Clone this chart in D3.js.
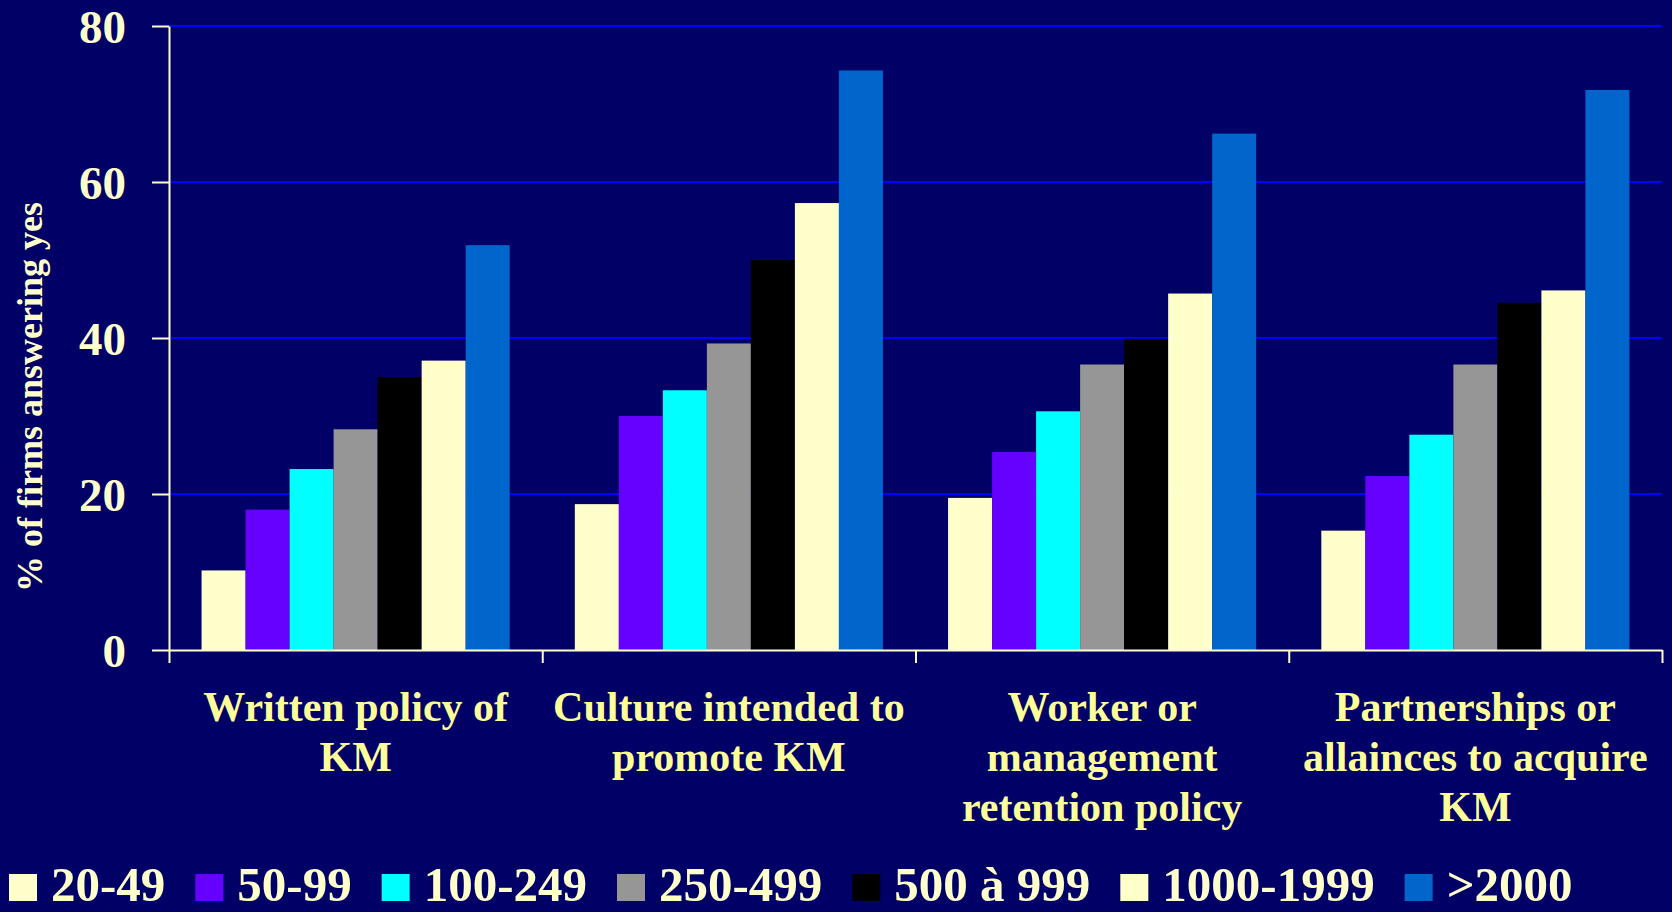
<!DOCTYPE html>
<html>
<head>
<meta charset="utf-8">
<script src="https://cdnjs.cloudflare.com/ajax/libs/d3/7.8.5/d3.min.js"></script>
<style>
  body { margin: 0; background: #000066; }
  svg { display: block; }
  text { font-family: "Liberation Serif", "Times New Roman", serif; font-weight: bold; }
</style>
</head>
<body>
<div id="chart"></div>
<script>
var categories = ["Written policy of KM", "Culture intended to promote KM",
                  "Worker or management retention policy", "Partnerships or allainces to acquire KM"];
var categoryLines = [["Written policy of", "KM"],
                     ["Culture intended to", "promote KM"],
                     ["Worker or", "management", "retention policy"],
                     ["Partnerships or", "allainces to acquire", "KM"]];
var sizes = ["20-49", "50-99", "100-249", "250-499", "500 à 999", "1000-1999", ">2000"];
// one array per firm size, one value per category (% of firms answering yes)
var s20_49     = [10.2, 18.7, 19.5, 15.3];
var s50_99     = [18.0, 30.0, 25.4, 22.3];
var s100_249   = [23.2, 33.3, 30.6, 27.6];
var s250_499   = [28.3, 39.3, 36.6, 36.6];
var s500_999   = [35.0, 50.0, 39.9, 44.5];
var s1000_1999 = [37.1, 57.3, 45.7, 46.1];
var s2000      = [51.9, 74.3, 66.2, 71.8];
var yTicks = [0, 20, 40, 60, 80];

var colors = ['#FFFFCC', '#6600FF', '#00FFFF', '#969696', '#000000', '#FFFFCC', '#0066CC'];
var seriesValues = [s20_49, s50_99, s100_249, s250_499, s500_999, s1000_1999, s2000];

var W = 1672, H = 912;
var margins = { top: 26, left: 169, right: 10, bottom: 262 };
var cream = '#FFFFCC';

var data = categories.map(function(c, i) {
        return { cat: c, values: sizes.map(function(s, j) { return { size: s, value: seriesValues[j][i], idx: j }; }) };
});

var svg = d3.select('#chart').append('svg')
        .attr('width', W)
        .attr('height', H)
        .style('background', '#000066');

var x0 = d3.scaleBand()
        .domain(categories)
        .range([margins.left, W - margins.right])
        .padding(0);
var x1 = d3.scaleBand()
        .domain(sizes)
        .range([0, x0.bandwidth()])
        .paddingInner(0)
        .paddingOuter(0.74);
var y = d3.scaleLinear()
        .domain([0, 80])
        .range([H - margins.bottom, margins.top]);

// gridlines
svg.append('g')
        .selectAll('line')
        .data(yTicks.slice(1))
        .enter()
        .append('line')
        .attr('x1', margins.left)
        .attr('x2', W - margins.right)
        .attr('y1', function(d) { return y(d); })
        .attr('y2', function(d) { return y(d); })
        .attr('stroke', '#0000FF')
        .attr('stroke-width', 2);

// bars
svg.append('g')
        .selectAll('g')
        .data(data)
        .enter()
        .append('g')
        .attr('transform', function(d) { return 'translate(' + x0(d.cat) + ',0)'; })
        .selectAll('rect')
        .data(function(d) { return d.values; })
        .enter()
        .append('rect')
        .attr('x', function(d) { return x1(d.size); })
        .attr('width', x1.bandwidth())
        .attr('y', function(d) { return y(d.value); })
        .attr('height', function(d) { return y(0) - y(d.value); })
        .attr('fill', function(d) { return colors[d.idx]; });

// y axis
var vAxis = d3.axisLeft(y).tickValues(yTicks).tickSize(17).tickSizeOuter(0).tickPadding(26);
var vGuide = svg.append('g').attr('transform', 'translate(' + margins.left + ',0)');
vAxis(vGuide);
vGuide.select('.domain').attr('stroke', cream).attr('stroke-width', 2);
vGuide.selectAll('line').attr('stroke', cream).attr('stroke-width', 2);
vGuide.selectAll('text')
        .attr('fill', cream)
        .attr('dy', '0.36em')
        .style('font-size', '47px')
        .style('font-family', '"Liberation Serif", serif')
        .style('font-weight', 'bold');

// x axis: ticks between categories
var xb = d3.scaleLinear().domain([0, categories.length]).range(x0.range());
var hAxis = d3.axisBottom(xb).ticks(categories.length).tickSize(13).tickSizeOuter(0).tickFormat('');
var hGuide = svg.append('g').attr('transform', 'translate(0,' + y(0) + ')');
hAxis(hGuide);
hGuide.select('.domain').attr('stroke', cream).attr('stroke-width', 2);
hGuide.selectAll('line').attr('stroke', cream).attr('stroke-width', 2);

// category labels
svg.append('g')
        .selectAll('text')
        .data(categoryLines)
        .enter()
        .append('text')
        .attr('text-anchor', 'middle')
        .attr('fill', '#FFFF99')
        .style('font-size', '42px')
        .attr('transform', function(d, i) { return 'translate(' + (x0(categories[i]) + x0.bandwidth() / 2) + ',' + (y(0) + 71) + ')'; })
        .selectAll('tspan')
        .data(function(d) { return d; })
        .enter()
        .append('tspan')
        .attr('x', 0)
        .attr('y', function(d, i) { return i * 50; })
        .text(function(d) { return d; });

// y title
svg.append('text')
        .attr('transform', 'translate(42,397) rotate(-90)')
        .attr('text-anchor', 'middle')
        .attr('fill', cream)
        .style('font-size', '36px')
        .text('% of firms answering yes');

// legend, flowing left to right
var lx = 9;
sizes.forEach(function(s, i) {
        svg.append('rect')
                .attr('x', lx)
                .attr('y', 874)
                .attr('width', 28)
                .attr('height', 27)
                .attr('fill', colors[i]);
        var t = svg.append('text')
                .attr('x', lx + 42)
                .attr('y', 901)
                .attr('fill', cream)
                .style('font-size', '49px')
                .text(s);
        lx += 42 + t.node().getComputedTextLength() + 30;
});
</script>
</body>
</html>
